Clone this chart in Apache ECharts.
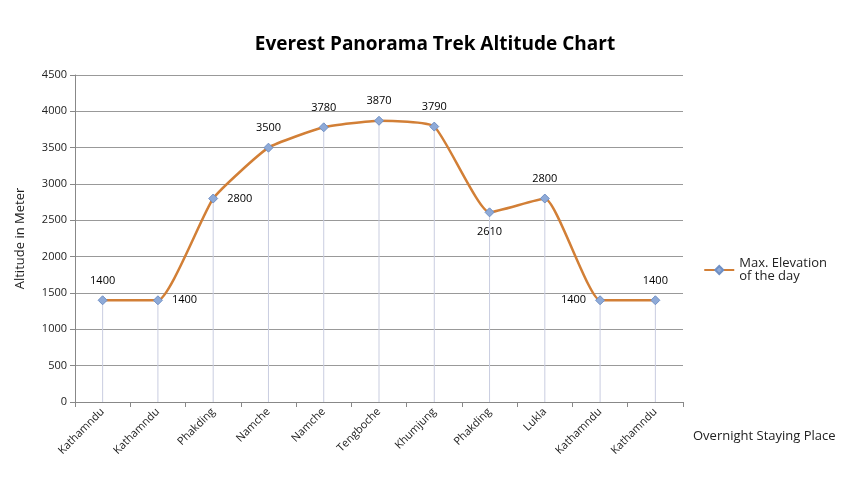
<!DOCTYPE html>
<html>
<head>
<meta charset="utf-8">
<script src="https://cdn.jsdelivr.net/npm/echarts@6/dist/echarts.min.js"></script>
<style>html,body{margin:0;padding:0;background:#fff}#chart{width:850px;height:490px}</style>
</head>
<body>
<div id="chart"></div>
<script>
const places = ['Kathamndu','Kathamndu','Phakding','Namche','Namche','Tengboche','Khumjung','Phakding','Lukla','Kathamndu','Kathamndu'];
const elevation = [1400,1400,2800,3500,3780,3870,3790,2610,2800,1400,1400];
const yTicks = [0,500,1000,1500,2000,2500,3000,3500,4000,4500];

// where each value label sits relative to its point
const labelSide = ['top','right','right','top','top','top','top','bottom','top','left','top'];

const chart = echarts.init(document.getElementById('chart'));
chart.setOption({
  animation: false,
  textStyle: { fontFamily: 'Open Sans, sans-serif' },
  title: {
    text: 'Everest Panorama Trek Altitude Chart',
    left: 430, top: 30, textAlign: 'center',
    textStyle: { fontSize: 19, fontWeight: 'bold', color: '#000' }
  },
  legend: {
    data: ['Max. Elevation\nof the day'],
    right: 18, top: 252, orient: 'vertical',
    itemWidth: 30, itemHeight: 10,
    textStyle: { fontSize: 13, color: '#222', align: 'center' }
  },
  grid: { left: 75, right: 167, top: 75, bottom: 88 },
  xAxis: {
    type: 'category',
    data: places,
    name: 'Overnight Staying Place',
    nameLocation: 'end',
    nameGap: 0,
    nameTextStyle: { fontSize: 13, color: '#222', padding: [28, 0, 0, 10], align: 'left', verticalAlign: 'top' },
    axisLine: { lineStyle: { color: '#888' } },
    axisTick: { show: true, lineStyle: { color: '#888' } },
    axisLabel: { rotate: 45, fontSize: 11, color: '#222', interval: 0 }
  },
  yAxis: {
    type: 'value',
    min: yTicks[0], max: yTicks[yTicks.length - 1], interval: 500,
    name: 'Altitude in Meter',
    nameLocation: 'middle', nameGap: 48,
    nameTextStyle: { fontSize: 13, color: '#222' },
    axisLine: { show: true, lineStyle: { color: '#888' } },
    axisTick: { show: true, lineStyle: { color: '#888' } },
    axisLabel: { fontSize: 11, color: '#222', formatter: v => String(v) },
    splitLine: { lineStyle: { color: '#999' } }
  },
  series: [
    {
      type: 'bar',
      data: elevation,
      barWidth: 1,
      silent: true,
      itemStyle: { color: '#c9cde0' },
      z: 1
    },
    {
      name: 'Max. Elevation\nof the day',
      type: 'line',
      data: elevation.map((v, i) => ({ value: v, label: { position: labelSide[i] } })),
      smooth: 0.15,
      symbol: 'diamond',
      symbolSize: 9,
      lineStyle: { color: '#d27f36', width: 2.5 },
      itemStyle: { color: '#8eaad8', borderColor: '#6f8fc4', borderWidth: 1 },
      label: { show: true, fontSize: 11, color: '#000', distance: 9 },
      z: 3
    }
  ]
});
</script>
</body>
</html>
